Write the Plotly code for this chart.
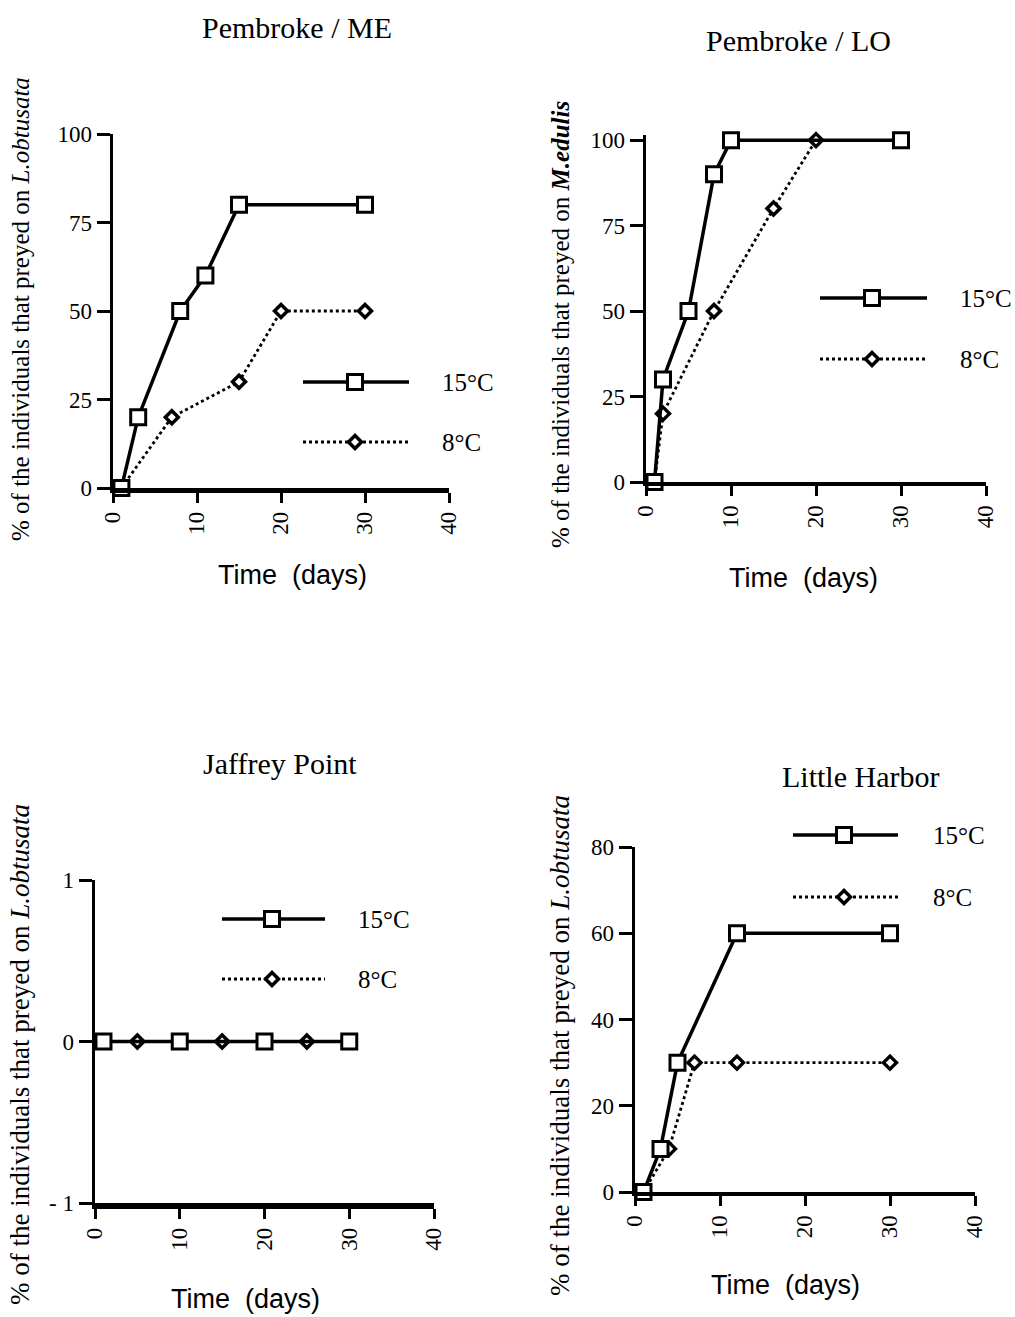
import plotly.graph_objects as go

W, H = 1015, 1317

# ---------------- data ----------------
# Pembroke / ME
pme_x15 = [1, 3, 8, 11, 15, 30]
pme_y15 = [0, 20, 50, 60, 80, 80]
pme_x8 = [1, 7, 15, 20, 30]
pme_y8 = [0, 20, 30, 50, 50]
# Pembroke / LO
plo_x15 = [1, 2, 5, 8, 10, 30]
plo_y15 = [0, 30, 50, 90, 100, 100]
plo_x8 = [1, 2, 8, 15, 20]
plo_y8 = [0, 20, 50, 80, 100]
# Jaffrey Point
jp_x15 = [1, 10, 20, 30]
jp_y15 = [0, 0, 0, 0]
jp_x8 = [5, 15, 25]
jp_y8 = [0, 0, 0]
# Little Harbor
lh_x15 = [1, 3, 5, 12, 30]
lh_y15 = [0, 10, 30, 60, 60]
lh_x8 = [1, 4, 7, 12, 30]
lh_y8 = [0, 10, 30, 30, 30]

x_ticks = [0, 10, 20, 30, 40]
y_ticks_pct = [0, 25, 50, 75, 100]
y_ticks_jp = [-1, 0, 1]
y_ticks_jp_text = ["- 1", "0", "1"]
y_ticks_lh = [0, 20, 40, 60, 80]

titles = ["Pembroke / ME", "Pembroke / LO", "Jaffrey Point", "Little Harbor"]
ylab_L = "% of the individuals that preyed on <i>L.obtusata</i>"
ylab_M = "% of the individuals that preyed on <b><i>M.edulis</i></b>"
xlab = "Time  (days)"
leg_labels = ["15°C", "8°C"]

SERIF = "Liberation Serif"
SANS = "Liberation Sans"

# ---------------- layout geometry (pixels) ----------------
panels = [
    # x0, x1, ytop, ybottom
    (113, 449, 134, 488),
    (646, 986, 135, 482),
    (95, 434, 880, 1203),
    (635, 975, 847, 1192),
]


def dx(a, b):
    return [a / W, b / W]


def dy(top, bottom):
    return [1 - bottom / H, 1 - top / H]


fig = go.Figure()

data = [
    (pme_x15, pme_y15, pme_x8, pme_y8),
    (plo_x15, plo_y15, plo_x8, plo_y8),
    (jp_x15, jp_y15, jp_x8, jp_y8),
    (lh_x15, lh_y15, lh_x8, lh_y8),
]

sq_marker = dict(symbol="square", size=15, color="white", line=dict(color="black", width=3))
dm_marker = dict(symbol="diamond", size=10, color="white", line=dict(color="black", width=3.5))

for i, (x15, y15, x8, y8) in enumerate(data):
    xa = "x" if i == 0 else f"x{i+1}"
    ya = "y" if i == 0 else f"y{i+1}"
    fig.add_trace(go.Scatter(x=x8, y=y8, xaxis=xa, yaxis=ya, mode="lines+markers",
                             line=dict(color="black", width=2.8, dash="dot"),
                             marker=dm_marker, cliponaxis=False, showlegend=False))
    fig.add_trace(go.Scatter(x=x15, y=y15, xaxis=xa, yaxis=ya, mode="lines+markers",
                             line=dict(color="black", width=3.5),
                             marker=sq_marker, cliponaxis=False, showlegend=False))

yranges = [[0, 100], [0, 101.5], [-1, 1], [0, 80]]
yticks = [y_ticks_pct, y_ticks_pct, y_ticks_jp, y_ticks_lh]
yticktext = [None, None, y_ticks_jp_text, None]
xlinew = [4.5, 4, 5.5, 4]

layout = dict(
    template="none",
    width=W, height=H,
    margin=dict(l=0, r=0, t=0, b=0, autoexpand=False),
    paper_bgcolor="white", plot_bgcolor="rgba(0,0,0,0)",
    showlegend=False,
)

for i, (x0, x1, yt, yb) in enumerate(panels):
    xk = "xaxis" if i == 0 else f"xaxis{i+1}"
    yk = "yaxis" if i == 0 else f"yaxis{i+1}"
    xa = "x" if i == 0 else f"x{i+1}"
    ya = "y" if i == 0 else f"y{i+1}"
    layout[xk] = dict(
        domain=dx(x0, x1), anchor=ya, range=[0, 40], tickvals=x_ticks,
        ticks="outside", ticklen=10, tickwidth=3, tickcolor="black",
        showline=True, linecolor="black", linewidth=xlinew[i], showgrid=False, zeroline=False,
        automargin=False,
        tickangle=-90, tickfont=dict(family=SERIF, size=23, color="black"),
    )
    yd = dict(
        domain=dy(yt, yb), anchor=xa, range=yranges[i], tickvals=yticks[i],
        ticks="outside", ticklen=13, tickwidth=3, tickcolor="black",
        showline=True, linecolor="black", linewidth=3.5, showgrid=False, zeroline=False,
        automargin=False,
        tickfont=dict(family=SERIF, size=23, color="black"),
    )
    if yticktext[i] is not None:
        yd["ticktext"] = yticktext[i]
    layout[yk] = yd

# overlay axes in pixel coordinates for legend keys and labels
layout["xaxis5"] = dict(domain=[0, 1], range=[0, W], visible=False, fixedrange=True,
                        automargin=False, anchor="y5")
layout["yaxis5"] = dict(domain=[0, 1], range=[H, 0], visible=False, fixedrange=True,
                        automargin=False, anchor="x5")

fig.update_layout(**layout)

# legend keys: (line x0, line x1, marker x, y15, y8, text x)
legends = [
    (303, 409, 355, 382, 442, 440),
    (820, 927, 872, 298, 359, 958),
    (222, 325, 272, 919, 979, 356),
    (793, 898, 844, 835, 897, 931),
]
for (lx0, lx1, mx, y15, y8, tx) in legends:
    fig.add_trace(go.Scatter(x=[lx0, lx1], y=[y15, y15], xaxis="x5", yaxis="y5", mode="lines",
                             line=dict(color="black", width=3.5), showlegend=False, hoverinfo="skip"))
    fig.add_trace(go.Scatter(x=[mx], y=[y15], xaxis="x5", yaxis="y5", mode="markers",
                             marker=sq_marker, showlegend=False, hoverinfo="skip"))
    fig.add_trace(go.Scatter(x=[lx0, lx1], y=[y8, y8], xaxis="x5", yaxis="y5", mode="lines",
                             line=dict(color="black", width=2.8, dash="dot"), showlegend=False, hoverinfo="skip"))
    fig.add_trace(go.Scatter(x=[mx], y=[y8], xaxis="x5", yaxis="y5", mode="markers",
                             marker=dm_marker, showlegend=False, hoverinfo="skip"))
    fig.add_annotation(x=tx, y=y15, xref="x5", yref="y5", text=leg_labels[0], showarrow=False,
                       xanchor="left", yanchor="middle", font=dict(family=SERIF, size=25, color="black"))
    fig.add_annotation(x=tx, y=y8, xref="x5", yref="y5", text=leg_labels[1], showarrow=False,
                       xanchor="left", yanchor="middle", font=dict(family=SERIF, size=25, color="black"))

# titles
title_pos = [(297, 27), (798, 40), (280, 763), (860, 776)]
for t, (tx, ty) in zip(titles, title_pos):
    fig.add_annotation(x=tx, y=ty, xref="x5", yref="y5", text=t, showarrow=False,
                       xanchor="center", yanchor="middle", font=dict(family=SERIF, size=30, color="black"))

# y-axis titles
ylabs = [ylab_L, ylab_M, ylab_L, ylab_L]
ylab_pos = [(20, 309, 25), (560, 325, 25), (20, 1055, 27), (560, 1046, 27)]
for t, (tx, ty, fs) in zip(ylabs, ylab_pos):
    fig.add_annotation(x=tx, y=ty, xref="x5", yref="y5", text=t, showarrow=False, textangle=-90,
                       xanchor="center", yanchor="middle", font=dict(family=SERIF, size=fs, color="black"))

# x-axis titles
xlab_pos = [(292, 575), (803, 578), (245, 1299), (785, 1285)]
for (tx, ty) in xlab_pos:
    fig.add_annotation(x=tx, y=ty, xref="x5", yref="y5", text=xlab, showarrow=False,
                       xanchor="center", yanchor="middle", font=dict(family=SANS, size=27, color="black"))

fig.write_html("out.html",
               config={"displayModeBar": False, "staticPlot": True},
               post_script="document.body.style.margin='0';document.body.style.overflow='hidden';")
